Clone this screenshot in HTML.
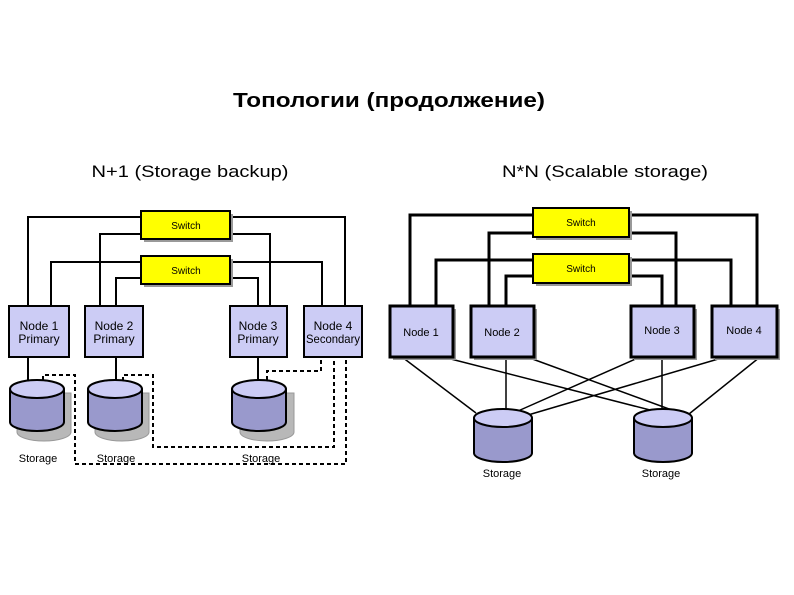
<!DOCTYPE html>
<html><head><meta charset="utf-8"><style>body{margin:0;background:#fff}svg{display:block}</style></head><body>
<svg width="794" height="595" viewBox="0 0 794 595" xmlns="http://www.w3.org/2000/svg" font-family="Liberation Sans, Arial, sans-serif">
<defs>
<g id="cyl">
<path d="M0,9 L0,42 A27,9 0 0 0 54,42 L54,9" fill="#9999cc" stroke="#000" stroke-width="2"/>
<ellipse cx="27" cy="9" rx="27" ry="9" fill="#ccccf5" stroke="#000" stroke-width="2"/>
</g>
</defs>
<text x="389" y="107" font-size="20" font-weight="bold" text-anchor="middle" textLength="312" lengthAdjust="spacingAndGlyphs">Топологии (продолжение)</text>
<text x="190" y="177" font-size="17" text-anchor="middle" textLength="197" lengthAdjust="spacingAndGlyphs">N+1 (Storage backup)</text>
<text x="605" y="177" font-size="17" text-anchor="middle" textLength="206" lengthAdjust="spacingAndGlyphs">N*N (Scalable storage)</text>

<!-- LEFT -->
<g fill="none" stroke="#000" stroke-width="2">
<polyline points="28,306 28,217 345,217 345,306"/>
<polyline points="100,306 100,234 270,234 270,306"/>
<polyline points="51,306 51,262 322,262 322,306"/>
<polyline points="116,306 116,278 258,278 258,306"/>
<line x1="28" y1="357" x2="28" y2="382"/>
<line x1="116" y1="357" x2="116" y2="382"/>
<line x1="258" y1="357" x2="258" y2="382"/>
</g>
<g fill="none" stroke="#000" stroke-width="2" stroke-dasharray="4,3">
<polyline points="43,380 43,375 75,375 75,464 346,464 346,357"/>
<polyline points="123,381 123,375 153,375 153,447 334,447 334,357"/>
<polyline points="267,380 267,371 321,371 321,357"/>
</g>
<rect x="144" y="214" width="89" height="28" fill="#999"/>
<rect x="141" y="211" width="89" height="28" fill="#ffff00" stroke="#000" stroke-width="2"/>
<text x="186" y="229" font-size="10" text-anchor="middle">Switch</text>
<rect x="144" y="259" width="89" height="28" fill="#999"/>
<rect x="141" y="256" width="89" height="28" fill="#ffff00" stroke="#000" stroke-width="2"/>
<text x="186" y="274" font-size="10" text-anchor="middle">Switch</text>
<g font-size="12" text-anchor="middle" stroke-width="2">
<rect x="9" y="306" width="60" height="51" fill="#ccccf5" stroke="#000"/>
<text x="39" y="330">Node 1</text><text x="39" y="343">Primary</text>
<rect x="85" y="306" width="58" height="51" fill="#ccccf5" stroke="#000"/>
<text x="114" y="330">Node 2</text><text x="114" y="343">Primary</text>
<rect x="230" y="306" width="57" height="51" fill="#ccccf5" stroke="#000"/>
<text x="258" y="330">Node 3</text><text x="258" y="343">Primary</text>
<rect x="304" y="306" width="58" height="51" fill="#ccccf5" stroke="#000"/>
<text x="333" y="330">Node 4</text><text x="333" y="343" textLength="54" lengthAdjust="spacingAndGlyphs">Secondary</text>
</g>
<g>
<path d="M17,393 L17,432 A27,9 0 0 0 71,432 L71,393 Z" fill="#b8b8b8" stroke="#999"/>
<use href="#cyl" x="10" y="380"/>
<path d="M95,393 L95,432 A27,9 0 0 0 149,432 L149,393 Z" fill="#b8b8b8" stroke="#999"/>
<use href="#cyl" x="88" y="380"/>
<path d="M240,393 L240,432 A27,9 0 0 0 294,432 L294,393 Z" fill="#b8b8b8" stroke="#999"/>
<use href="#cyl" x="232" y="380"/>
</g>
<g font-size="11" text-anchor="middle">
<text x="38" y="462">Storage</text><text x="116" y="462">Storage</text><text x="261" y="462">Storage</text>
</g>

<!-- RIGHT -->
<g fill="none" stroke="#000" stroke-width="3">
<polyline points="410,306 410,215 757,215 757,306"/>
<polyline points="489,306 489,233 676,233 676,306"/>
<polyline points="436,306 436,260 731,260 731,306"/>
<polyline points="506,306 506,276 662,276 662,306"/>
</g>
<g fill="none" stroke="#000" stroke-width="1.5">
<line x1="402" y1="357" x2="476" y2="413"/>
<line x1="443" y1="357" x2="650" y2="410"/>
<line x1="506" y1="357" x2="506" y2="410"/>
<line x1="527" y1="357" x2="680" y2="413"/>
<line x1="640" y1="357" x2="518" y2="411"/>
<line x1="662" y1="357" x2="662" y2="410"/>
<line x1="725" y1="357" x2="528" y2="415"/>
<line x1="760" y1="357" x2="689" y2="414"/>
</g>
<rect x="536" y="211" width="96" height="29" fill="#999"/>
<rect x="533" y="208" width="96" height="29" fill="#ffff00" stroke="#000" stroke-width="2"/>
<text x="581" y="226" font-size="10" text-anchor="middle">Switch</text>
<rect x="536" y="257" width="96" height="29" fill="#999"/>
<rect x="533" y="254" width="96" height="29" fill="#ffff00" stroke="#000" stroke-width="2"/>
<text x="581" y="272" font-size="10" text-anchor="middle">Switch</text>
<g font-size="11" text-anchor="middle" stroke-width="3">
<rect x="393" y="309" width="63" height="51" fill="#999" stroke="none"/>
<rect x="390" y="306" width="63" height="51" fill="#ccccf5" stroke="#000"/>
<text x="421" y="336">Node 1</text>
<rect x="474" y="309" width="63" height="51" fill="#999" stroke="none"/>
<rect x="471" y="306" width="63" height="51" fill="#ccccf5" stroke="#000"/>
<text x="502" y="336">Node 2</text>
<rect x="634" y="309" width="63" height="51" fill="#999" stroke="none"/>
<rect x="631" y="306" width="63" height="51" fill="#ccccf5" stroke="#000"/>
<text x="662" y="334">Node 3</text>
<rect x="715" y="309" width="65" height="51" fill="#999" stroke="none"/>
<rect x="712" y="306" width="65" height="51" fill="#ccccf5" stroke="#000"/>
<text x="744" y="334">Node 4</text>
</g>
<g>
<path d="M474,418 L474,453 A29,9 0 0 0 532,453 L532,418" fill="#9999cc" stroke="#000" stroke-width="2"/>
<ellipse cx="503" cy="418" rx="29" ry="9" fill="#ccccf5" stroke="#000" stroke-width="2"/>
<path d="M634,418 L634,453 A29,9 0 0 0 692,453 L692,418" fill="#9999cc" stroke="#000" stroke-width="2"/>
<ellipse cx="663" cy="418" rx="29" ry="9" fill="#ccccf5" stroke="#000" stroke-width="2"/>
</g>
<g font-size="11" text-anchor="middle">
<text x="502" y="477">Storage</text><text x="661" y="477">Storage</text>
</g>
</svg>
</body></html>
